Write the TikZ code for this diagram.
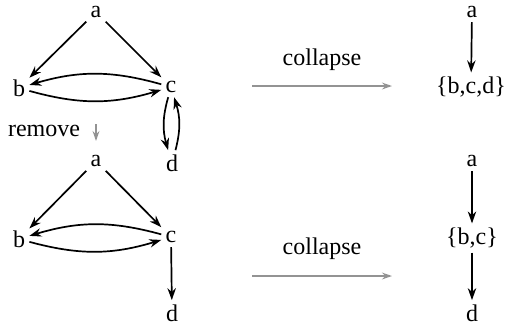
\documentclass[tikz,border=0pt]{standalone}
\usepackage{fontspec}
\setmainfont{Liberation Serif}
\usetikzlibrary{arrows.meta}
\begin{document}
\begin{tikzpicture}[x=0.5pt,y=-0.5pt,
  every node/.style={font=\fontsize{12}{14}\selectfont, inner sep=2pt},
  edge/.style={-{Stealth[length=6pt,width=4.2pt]}, line width=0.85pt, black},
  grayarrow/.style={-{Stealth[length=5pt,width=3.4pt]}, line width=0.85pt, gray!85},
  bent/.style={edge, bend right=16}]
\useasboundingbox (0,0) rectangle (509,328);
% top-left graph
\node (a1) at (96,12) {a};
\node (b1) at (19,88) {b};
\node (c1) at (171,87) {c};
\node (d1) at (172,163) {d};
\draw[edge] (a1) -- (b1);
\draw[edge] (a1) -- (c1);
\draw[bent] (c1) to (b1);
\draw[bent] (b1) to (c1);
\draw[bent] (c1) to (d1);
\draw[bent] (d1) to (c1);
% remove
\node (rm) at (44,131) {remove};
\coordinate (r1) at (96,124);
\coordinate (r2) at (96,141);
\draw[grayarrow] (r1) -- (r2);
% bottom-left graph
\node (a2) at (96,161) {a};
\node (b2) at (19,239) {b};
\node (c2) at (171,237) {c};
\node (d2) at (172,313) {d};
\draw[edge] (a2) -- (b2);
\draw[edge] (a2) -- (c2);
\draw[bent] (c2) to (b2);
\draw[bent] (b2) to (c2);
\draw[edge] (c2) -- (d2);
% collapse top
\node (col1) at (322,60) {collapse};
\coordinate (p1) at (252,86);
\coordinate (q1) at (392,86);
\draw[grayarrow] (p1) -- (q1);
\node (ra1) at (472,12) {a};
\node (rb1) at (471,87) {\{b,c,d\}};
\draw[edge] (ra1) -- (rb1);
% collapse bottom
\node (col2) at (322,249) {collapse};
\coordinate (p2) at (252,276);
\coordinate (q2) at (392,276);
\draw[grayarrow] (p2) -- (q2);
\node (ra2) at (472,161) {a};
\node (rb2) at (472,238) {\{b,c\}};
\node (rd2) at (472,313) {d};
\draw[edge] (ra2) -- (rb2);
\draw[edge] (rb2) -- (rd2);
\end{tikzpicture}
\end{document}
